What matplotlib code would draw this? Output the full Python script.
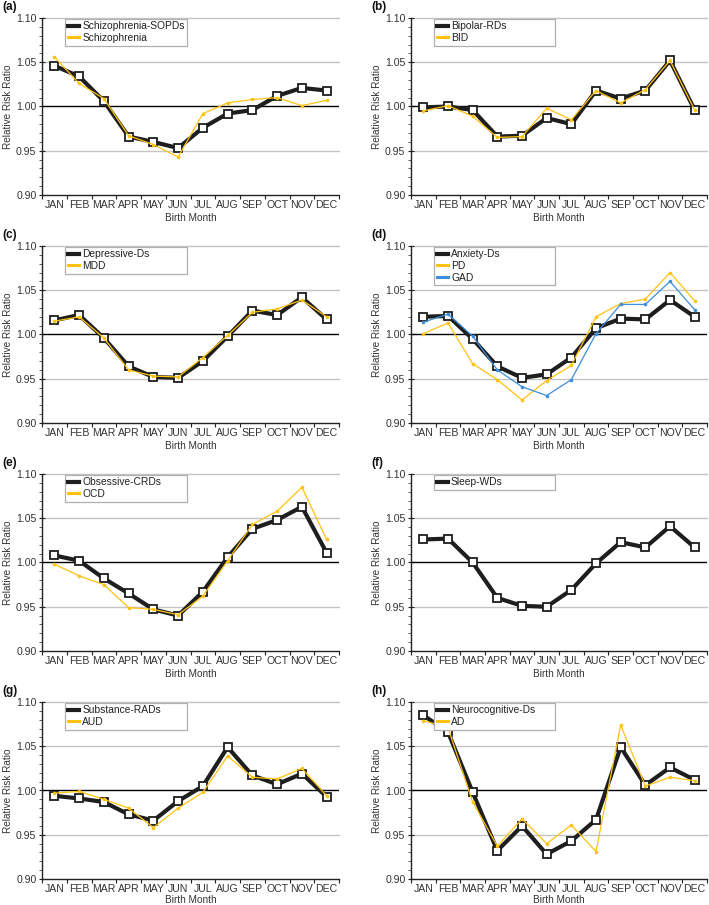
import matplotlib
matplotlib.use("Agg")
import matplotlib.pyplot as plt
from matplotlib.lines import Line2D
import numpy as np

plt.rcParams['font.family'] = ['Liberation Sans', 'DejaVu Sans']

months = ["JAN", "FEB", "MAR", "APR", "MAY", "JUN", "JUL", "AUG", "SEP", "OCT", "NOV", "DEC"]

# (a)
a_name = ["Schizophrenia-SOPDs", "Schizophrenia"]
a_main = [1.046, 1.034, 1.006, 0.966, 0.960, 0.953, 0.976, 0.992, 0.996, 1.012, 1.021, 1.018]
a_sub1 = [1.056, 1.026, 1.009, 0.967, 0.957, 0.943, 0.992, 1.004, 1.008, 1.010, 1.001, 1.007]
# (b)
b_name = ["Bipolar-RDs", "BID"]
b_main = [0.999, 1.000, 0.996, 0.966, 0.967, 0.987, 0.980, 1.018, 1.009, 1.018, 1.052, 0.996]
b_sub1 = [0.995, 1.001, 0.989, 0.965, 0.966, 0.998, 0.985, 1.018, 1.004, 1.019, 1.052, 0.996]
# (c)
c_name = ["Depressive-Ds", "MDD"]
c_main = [1.016, 1.022, 0.996, 0.964, 0.952, 0.951, 0.970, 0.998, 1.027, 1.022, 1.042, 1.017]
c_sub1 = [1.015, 1.020, 0.996, 0.960, 0.953, 0.952, 0.974, 0.999, 1.025, 1.029, 1.039, 1.020]
# (d)
d_name = ["Anxiety-Ds", "PD", "GAD"]
d_main = [1.020, 1.021, 0.995, 0.964, 0.951, 0.955, 0.974, 1.007, 1.018, 1.017, 1.039, 1.020]
d_sub1 = [1.001, 1.013, 0.967, 0.949, 0.926, 0.948, 0.965, 1.020, 1.035, 1.040, 1.070, 1.038]
d_sub2 = [1.014, 1.023, 0.998, 0.960, 0.941, 0.931, 0.949, 1.001, 1.034, 1.034, 1.060, 1.028]
# (e)
e_name = ["Obsessive-CRDs", "OCD"]
e_main = [1.008, 1.002, 0.982, 0.965, 0.947, 0.940, 0.967, 1.006, 1.038, 1.048, 1.063, 1.011]
e_sub1 = [0.998, 0.985, 0.975, 0.949, 0.947, 0.941, 0.962, 1.002, 1.043, 1.058, 1.085, 1.026]
# (f)
f_name = ["Sleep-WDs"]
f_main = [1.026, 1.027, 1.000, 0.960, 0.951, 0.950, 0.969, 0.999, 1.023, 1.017, 1.041, 1.017]
# (g)
g_name = ["Substance-RADs", "AUD"]
g_main = [0.994, 0.991, 0.987, 0.973, 0.966, 0.988, 1.005, 1.049, 1.017, 1.007, 1.019, 0.993]
g_sub1 = [0.997, 0.999, 0.990, 0.980, 0.958, 0.980, 0.998, 1.039, 1.015, 1.013, 1.025, 0.994]
# (h)
h_name = ["Neurocognitive-Ds", "AD"]
h_main = [1.085, 1.066, 0.998, 0.932, 0.960, 0.928, 0.943, 0.967, 1.049, 1.006, 1.026, 1.012]
h_sub1 = [1.079, 1.071, 0.987, 0.937, 0.968, 0.940, 0.961, 0.931, 1.074, 1.005, 1.015, 1.011]

panels = [
    ("(a)", a_name, a_main, [a_sub1]),
    ("(b)", b_name, b_main, [b_sub1]),
    ("(c)", c_name, c_main, [c_sub1]),
    ("(d)", d_name, d_main, [d_sub1, d_sub2]),
    ("(e)", e_name, e_main, [e_sub1]),
    ("(f)", f_name, f_main, []),
    ("(g)", g_name, g_main, [g_sub1]),
    ("(h)", h_name, h_main, [h_sub1]),
]

YEL = "#FFC20E"
BLU = "#3D8EDB"
sub_colors = [YEL, BLU]

W, H = 709, 905
fig = plt.figure(figsize=(W / 100, H / 100), dpi=100)

col_left = [42, 411]
col_w = [297, 296]
row_top = [18, 246, 474, 702]
ax_h = 177

x = np.arange(len(months))
for i, (lab, names, main, subs) in enumerate(panels):
    r, c = divmod(i, 2)
    left = col_left[c] / W
    bottom = 1 - (row_top[r] + ax_h) / H
    ax = fig.add_axes([left, bottom, col_w[c] / W, ax_h / H])

    ax.set_xlim(-0.5, len(months) - 0.5)
    ax.set_ylim(0.90, 1.10)
    for yv in [0.95, 1.05, 1.10]:
        ax.axhline(yv, color="#c4c4c4", lw=1.0, zorder=1, clip_on=False)
    ax.axhline(1.00, color="black", lw=1.0, zorder=2)

    ax.plot(x, main, color="#1e1e1e", lw=3.0, marker="s", markersize=5.5,
            markerfacecolor="white", markeredgecolor="#1e1e1e", markeredgewidth=1.3,
            zorder=4)
    for s, col in zip(subs, sub_colors):
        ax.plot(x, s, color=col, lw=0.9, marker="o", markersize=2.6,
                markeredgewidth=0, zorder=5)

    for sp in ["top", "right"]:
        ax.spines[sp].set_visible(False)
    ax.spines["left"].set_color("#222222")
    ax.spines["bottom"].set_color("#222222")
    ax.spines["left"].set_linewidth(1.0)
    ax.spines["bottom"].set_linewidth(1.0)

    ax.set_xticks(x)
    ax.set_xticklabels(months)
    ax.set_xticks(np.arange(-0.5, len(months), 1.0), minor=True)
    ax.tick_params(axis="x", which="major", length=0, pad=3.5, labelsize=7.6, labelcolor="#333333")
    ax.tick_params(axis="x", which="minor", length=3, width=0.8, color="#222222")

    ax.set_yticks([0.90, 0.95, 1.00, 1.05, 1.10])
    ax.set_yticklabels(["0.90", "0.95", "1.00", "1.05", "1.10"])
    ax.set_yticks(np.arange(0.90, 1.1001, 0.01), minor=True)
    ax.tick_params(axis="y", which="major", length=4, width=0.8, direction="inout", pad=2,
                   labelsize=7.6, labelcolor="#333333", color="#222222")
    ax.tick_params(axis="y", which="minor", length=2, width=0.6, color="#444444")

    ax.set_xlabel("Birth Month", fontsize=7.2, color="#333333",
                  labelpad=(1.0 if r == 3 else 2.5))
    ax.set_ylabel("Relative Risk Ratio", fontsize=7.2, color="#333333", labelpad=2)

    handles = [Line2D([0], [0], color="#1e1e1e", lw=3.0)]
    for s, col in zip(subs, sub_colors):
        handles.append(Line2D([0], [0], color=col, lw=2.2))
    leg = ax.legend(handles, names, loc="upper left",
                    bbox_to_anchor=(0.078, 0.0, 0.41, 0.995), mode="expand",
                    borderaxespad=0, fancybox=False, framealpha=1,
                    edgecolor="#b0b0b0", fontsize=7.4, handlelength=1.1,
                    handletextpad=0.3, labelspacing=0.15, borderpad=0.25)
    leg.get_frame().set_linewidth(0.9)
    for t in leg.get_texts():
        t.set_color("#222222")

    lx = 2 if c == 0 else 371
    ly = row_top[r] - 11
    fig.text(lx / W, 1 - ly / H, lab, fontsize=8.5, fontweight="bold",
             va="center", ha="left", color="#111111")

fig.savefig("out.png", dpi=100)
